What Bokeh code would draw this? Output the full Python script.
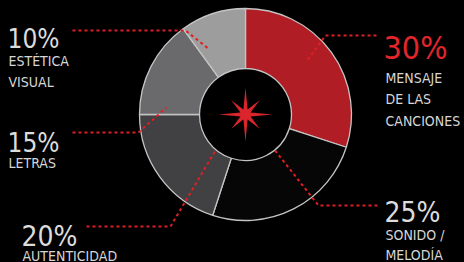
import numpy as np
from bokeh.plotting import figure
from bokeh.models import Range1d, GlobalInlineStyleSheet
from bokeh.core.properties import value
from bokeh.embed import file_html
from bokeh.resources import INLINE

# ---------------- data ----------------
categories = ["MENSAJE DE LAS CANCIONES", "SONIDO / MELODÍA", "AUTENTICIDAD", "LETRAS", "ESTÉTICA VISUAL"]
values = [30, 25, 20, 15, 10]
pct_labels = ["30%", "25%", "20%", "15%", "10%"]
label_lines = [["MENSAJE", "DE LAS", "CANCIONES"], ["SONIDO /", "MELODÍA"], ["AUTENTICIDAD"], ["LETRAS"], ["ESTÉTICA", "VISUAL"]]

# ---------------- styles / layout (reference pixel coords, y down) ----------------
slice_colors = ["#b11d24", "#060607", "#414143", "#6a6a6c", "#9d9d9e"]
pct_colors = ["#e2262b", "#dcdcdc", "#dcdcdc", "#dcdcdc", "#dcdcdc"]
pct_sizes = ["32px", "28px", "28px", "26px", "26px"]
pct_pos = [(383, 47), (384, 212), (21, 236), (7, 142), (7, 38)]
sub_pos = [(385, 77), (385, 234), (22, 255), (8, 162), (8, 60)]
sub_steps = [21.5, 20.5, 21.5, 21.5, 21.5]
sub_size = "14px"
leaders = [
    [(376, 35), (325, 35), (306, 61)],
    [(377, 205), (318, 205), (273, 148)],
    [(86, 226), (170, 226), (215, 150)],
    [(72, 132), (138, 132), (166, 107)],
    [(72, 30), (185, 30), (209, 49)],
]
cx, cy = 245, 114
r_out, r_in = 106, 46
FONT = "DejaVu Sans Condensed, Roboto"

W, H = 464, 262
def Y(y):
    return H - y

p = figure(width=W, height=H, x_range=Range1d(0, W), y_range=Range1d(0, H),
           output_backend="svg", toolbar_location=None, min_border=0,
           background_fill_color="black", border_fill_color="black", outline_line_color=None)
p.axis.visible = False
p.grid.visible = False
p.stylesheets = [GlobalInlineStyleSheet(css="body{background:#000;}")]

# donut
tot = float(sum(values))
cum = np.concatenate([[0], np.cumsum(values)]) / tot
starts = np.pi / 2 - 2 * np.pi * cum[:-1]
ends = np.pi / 2 - 2 * np.pi * cum[1:]
p.annular_wedge(x=[cx] * len(values), y=[Y(cy)] * len(values), inner_radius=r_in, outer_radius=r_out,
                start_angle=list(starts), end_angle=list(ends), direction="clock",
                fill_color=slice_colors, line_color="#c4c4c4", line_width=1.3)

# center star
n = 8
ang = np.pi / 2 - np.arange(2 * n) * np.pi / n
rad = np.array([27 if (k % 4 == 0) else (20 if k % 2 == 0 else 5.5) for k in range(2 * n)])
p.patch(cx + rad * np.cos(ang), Y(cy) + rad * np.sin(ang), fill_color="#d9252b", line_color=None)

# leader lines
for pts in leaders:
    p.line([q[0] for q in pts], [Y(q[1]) for q in pts], line_color="#e01e24", line_width=2,
           line_dash="3 3")

# labels
for i in range(len(values)):
    p.text(x=[pct_pos[i][0]], y=[Y(pct_pos[i][1])], text=[pct_labels[i]],
           text_font=value(FONT), text_font_size=pct_sizes[i], text_color=pct_colors[i],
           text_baseline="alphabetic", text_align="left")
    for j, t in enumerate(label_lines[i]):
        p.text(x=[sub_pos[i][0]], y=[Y(sub_pos[i][1] + j * sub_steps[i])], text=[t],
               text_font=value(FONT), text_font_size=sub_size, text_color="#d6d6d6",
               text_baseline="alphabetic", text_align="left")

open("out.html", "w").write(file_html(p, INLINE))
